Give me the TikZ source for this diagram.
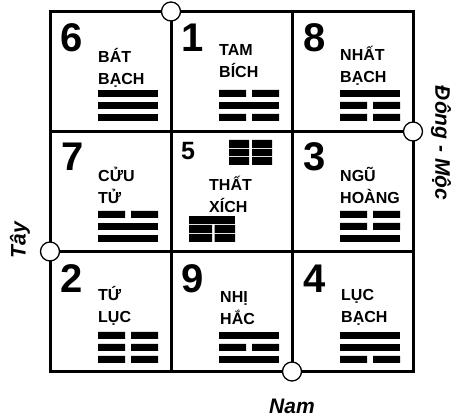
\documentclass[tikz,border=0pt]{standalone}
\usepackage{fontspec}
\setmainfont{Liberation Sans}
\usetikzlibrary{positioning}

\begin{document}
\begin{tikzpicture}[
    x=1pt, y=-1pt,
    font=\bfseries,
    node distance=0pt,
    cell/.style={
        draw,
        line width=3pt,
        minimum width=121pt,
        minimum height=120pt,
        inner sep=0pt,
        outer sep=0pt
    },
    palnum/.style={anchor=base west, inner sep=0pt, font=\bfseries\fontsize{40}{40}\selectfont},
    smallnum/.style={palnum, font=\bfseries\fontsize{25}{25}\selectfont},
    palname/.style={anchor=base west, inner sep=0pt, align=left, font=\bfseries\fontsize{16}{22}\selectfont},
    dirlabel/.style={inner sep=0pt, font=\bfseries\itshape\fontsize{21}{21}\selectfont},
    gate/.style={circle, draw, fill=white, line width=1.3pt, minimum size=19pt, inner sep=0pt},
    yang/.pic={\fill (0,0) rectangle (60,7);},
    yin/.pic={\fill (0,0) rectangle (27,7) (33,0) rectangle (60,7);}
]
\useasboundingbox (0,0) rectangle (459,419);

% the nine palaces
\node[cell] (c6) at (110.5,71.5) {};
\node[cell, right=of c6] (c1) {};
\node[cell, right=of c1] (c8) {};
\node[cell, below=of c6] (c7) {};
\node[cell, right=of c7] (c5) {};
\node[cell, right=of c5] (c3) {};
\node[cell, below=of c7] (c2) {};
\node[cell, right=of c2] (c9) {};
\node[cell, right=of c9] (c4) {};

% numbers
\node[palnum] (n6) at (60.5,52) {6};
\node[palnum] (n1) at (181,52) {1};
\node[palnum] (n8) at (303,52) {8};
\node[palnum] (n7) at (61,171) {7};
\node[smallnum] (n5) at (181,160) {5};
\node[palnum] (n3) at (303,171) {3};
\node[palnum] (n2) at (60,293) {2};
\node[palnum] (n9) at (181,293) {9};
\node[palnum] (n4) at (303,293) {4};

% names (anchored at the second line)
\node[palname] (t6) at (98,85) {BÁT\\BẠCH};
\node[palname] (t1) at (219,78) {TAM\\BÍCH};
\node[palname] (t8) at (340,83) {NHẤT\\BẠCH};
\node[palname] (t7) at (98,204) {CỬU\\TỬ};
\node[palname] (t5) at (209,213) {THẤT\\XÍCH};
\node[palname] (t3) at (340,204) {NGŨ\\HOÀNG};
\node[palname] (t2) at (98,323) {TỨ\\LỤC};
\node[palname] (t9) at (220,325) {NHỊ\\HẮC};
\node[palname] (t4) at (341,323) {LỤC\\BẠCH};

% trigrams
\pic at (98,90) {yang};  \pic at (98,102) {yang};  \pic at (98,114) {yang};
\pic at (219,90) {yin};  \pic at (219,102) {yang}; \pic at (219,114) {yin};
\pic at (340,90) {yang}; \pic at (340,102) {yin};  \pic at (340,114) {yin};
\pic at (98,211) {yin};  \pic at (98,223) {yang};  \pic at (98,235) {yang};
\pic at (340,211) {yin}; \pic at (340,223) {yin};  \pic at (340,235) {yang};
\pic at (98,332) {yin};  \pic at (98,344) {yin};   \pic at (98,356) {yin};
\pic at (219,332) {yang}; \pic at (219,344) {yin}; \pic at (219,356) {yang};
\pic at (340,332) {yang}; \pic at (340,344) {yang}; \pic at (340,356) {yin};

% centre palace
\fill (229,140) rectangle (249,148) (252,140) rectangle (272,148);
\fill (229,149) rectangle (249,156) (252,149) rectangle (272,156);
\fill (229,157) rectangle (249,165) (252,157) rectangle (272,165);
\fill (189,216) rectangle (235,224);
\fill (189,225) rectangle (212,233) (214.5,225) rectangle (235,233);
\fill (189,234) rectangle (212,242) (214.5,234) rectangle (235,242);

% gates
\node[gate] (g1) at (c1.north west) {};
\node[gate] (g3) at (c3.north east) {};
\node[gate] (g7) at (c7.south west) {};
\node[gate] (g9) at (c9.south east) {};

% directions
\node[dirlabel, rotate=-90] (dong) at (441,143) {Đông - Mộc};
\node[dirlabel, rotate=90] (tay) at (20,240) {Tây};
\node[dirlabel] (nam) at (292,406) {Nam};

\end{tikzpicture}
\end{document}
